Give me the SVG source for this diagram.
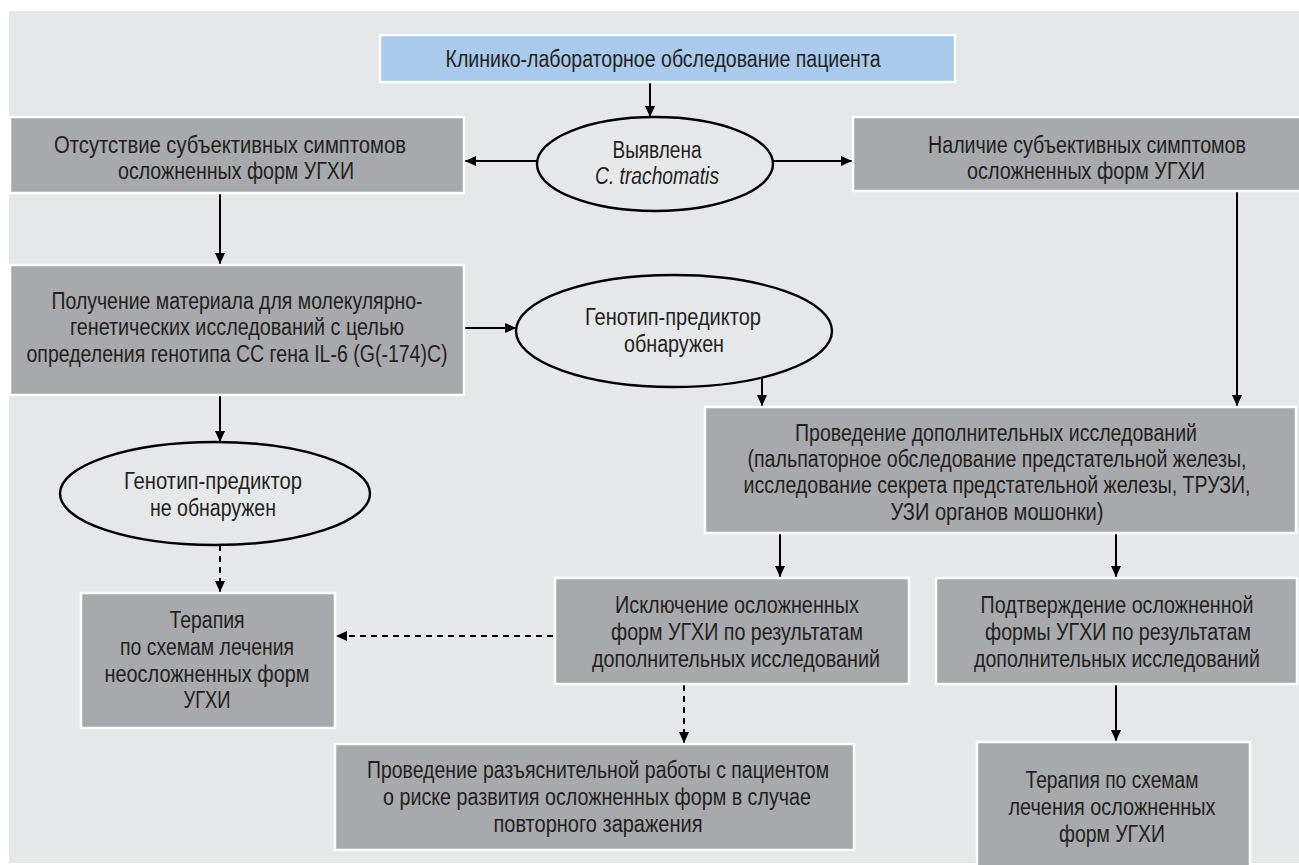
<svg xmlns="http://www.w3.org/2000/svg" width="1299" height="865" viewBox="0 0 1299 865">
<style>
.box{fill:#a7a9ac;stroke:#ffffff;stroke-width:2.5}
.blue{fill:#a9caec;stroke:#ffffff;stroke-width:2.5}
.ell{fill:#e6e7e8;stroke:#000000;stroke-width:2.4}
.t{font-family:"Liberation Sans",Arial,sans-serif;font-size:23px;fill:#231f20}
.i{font-style:italic}
.c{fill:none;stroke:#000000;stroke-width:2}
.d{stroke-dasharray:6 5}
</style>
<defs>
<marker id="ah" markerUnits="userSpaceOnUse" markerWidth="11" markerHeight="10" refX="11" refY="5" orient="auto">
<path d="M0,0 L11,5 L0,10 z" fill="#000000"/>
</marker>
</defs>
<rect x="0" y="0" width="1299" height="865" fill="#ffffff"/>
<rect x="9" y="11" width="1290" height="852" fill="#e6e7e8"/>

<g id="connectors">
<line class="c" x1="650" y1="82" x2="650" y2="117" marker-end="url(#ah)"/>
<line class="c" x1="537" y1="161" x2="465" y2="161" marker-end="url(#ah)"/>
<line class="c" x1="773" y1="161" x2="852" y2="161" marker-end="url(#ah)"/>
<line class="c" x1="220" y1="193" x2="220" y2="264" marker-end="url(#ah)"/>
<line class="c" x1="465" y1="328" x2="516" y2="328" marker-end="url(#ah)"/>
<line class="c" x1="220" y1="395" x2="220" y2="442" marker-end="url(#ah)"/>
<line class="c" x1="762" y1="378" x2="762" y2="406" marker-end="url(#ah)"/>
<line class="c" x1="1237" y1="191" x2="1237" y2="406" marker-end="url(#ah)"/>
<line class="c d" x1="220" y1="545" x2="220" y2="592" marker-end="url(#ah)"/>
<line class="c" x1="780" y1="533" x2="780" y2="577" marker-end="url(#ah)"/>
<line class="c" x1="1116" y1="533" x2="1116" y2="577" marker-end="url(#ah)"/>
<line class="c d" x1="553" y1="636" x2="336" y2="636" marker-end="url(#ah)"/>
<line class="c d" x1="684" y1="685" x2="684" y2="743" marker-end="url(#ah)"/>
<line class="c" x1="1116" y1="685" x2="1116" y2="741" marker-end="url(#ah)"/>
</g>

<g id="n-start">
<rect class="blue" x="380" y="35" width="575" height="47"/>
<text class="t" x="663" y="67" text-anchor="middle" textLength="435" lengthAdjust="spacingAndGlyphs">Клинико-лабораторное обследование пациента</text>
</g>

<g id="n-detected">
<ellipse class="ell" cx="655" cy="164" rx="118" ry="47"/>
<text class="t" x="657" y="158" text-anchor="middle" textLength="89" lengthAdjust="spacingAndGlyphs">Выявлена</text>
<text class="t i" x="657" y="184" text-anchor="middle" textLength="124" lengthAdjust="spacingAndGlyphs">C. trachomatis</text>
</g>

<g id="n-nosymptoms">
<rect class="box" x="10" y="117" width="454" height="76"/>
<text class="t" x="230" y="153" text-anchor="middle" textLength="352" lengthAdjust="spacingAndGlyphs">Отсутствие субъективных симптомов</text>
<text class="t" x="236" y="179" text-anchor="middle" textLength="236" lengthAdjust="spacingAndGlyphs">осложненных форм УГХИ</text>
</g>

<g id="n-symptoms">
<rect class="box" x="853" y="117" width="470" height="74"/>
<text class="t" x="1087" y="153" text-anchor="middle" textLength="318" lengthAdjust="spacingAndGlyphs">Наличие субъективных симптомов</text>
<text class="t" x="1086" y="179" text-anchor="middle" textLength="238" lengthAdjust="spacingAndGlyphs">осложненных форм УГХИ</text>
</g>

<g id="n-material">
<rect class="box" x="10" y="265" width="454" height="130"/>
<text class="t" x="237" y="309" text-anchor="middle" textLength="371" lengthAdjust="spacingAndGlyphs">Получение материала для молекулярно-</text>
<text class="t" x="237" y="335" text-anchor="middle" textLength="334" lengthAdjust="spacingAndGlyphs">генетических исследований с целью</text>
<text class="t" x="237" y="362" text-anchor="middle" textLength="421" lengthAdjust="spacingAndGlyphs">определения генотипа CC гена IL-6 (G(-174)C)</text>
</g>

<g id="n-found">
<ellipse class="ell" cx="674" cy="331" rx="158" ry="56"/>
<text class="t" x="673" y="325" text-anchor="middle" textLength="176" lengthAdjust="spacingAndGlyphs">Генотип-предиктор</text>
<text class="t" x="674" y="352" text-anchor="middle" textLength="100" lengthAdjust="spacingAndGlyphs">обнаружен</text>
</g>

<g id="n-notfound">
<ellipse class="ell" cx="215" cy="493.5" rx="155" ry="51.5"/>
<text class="t" x="213" y="489" text-anchor="middle" textLength="178" lengthAdjust="spacingAndGlyphs">Генотип-предиктор</text>
<text class="t" x="213" y="516" text-anchor="middle" textLength="126" lengthAdjust="spacingAndGlyphs">не обнаружен</text>
</g>

<g id="n-additional">
<rect class="box" x="705" y="407" width="591" height="126"/>
<text class="t" x="996" y="441" text-anchor="middle" textLength="402" lengthAdjust="spacingAndGlyphs">Проведение дополнительных исследований</text>
<text class="t" x="997" y="467" text-anchor="middle" textLength="499" lengthAdjust="spacingAndGlyphs">(пальпаторное обследование предстательной железы,</text>
<text class="t" x="997" y="493" text-anchor="middle" textLength="507" lengthAdjust="spacingAndGlyphs">исследование секрета предстательной железы, ТРУЗИ,</text>
<text class="t" x="997" y="520" text-anchor="middle" textLength="213" lengthAdjust="spacingAndGlyphs">УЗИ органов мошонки)</text>
</g>

<g id="n-excluded">
<rect class="box" x="555" y="578" width="354" height="106"/>
<text class="t" x="737" y="613" text-anchor="middle" textLength="244" lengthAdjust="spacingAndGlyphs">Исключение осложненных</text>
<text class="t" x="737" y="640" text-anchor="middle" textLength="252" lengthAdjust="spacingAndGlyphs">форм УГХИ по результатам</text>
<text class="t" x="736" y="667" text-anchor="middle" textLength="288" lengthAdjust="spacingAndGlyphs">дополнительных исследований</text>
</g>

<g id="n-confirmed">
<rect class="box" x="936" y="578" width="361" height="106"/>
<text class="t" x="1117" y="613" text-anchor="middle" textLength="273" lengthAdjust="spacingAndGlyphs">Подтверждение осложненной</text>
<text class="t" x="1118" y="640" text-anchor="middle" textLength="266" lengthAdjust="spacingAndGlyphs">формы УГХИ по результатам</text>
<text class="t" x="1117" y="667" text-anchor="middle" textLength="286" lengthAdjust="spacingAndGlyphs">дополнительных исследований</text>
</g>

<g id="n-therapy-uncomplicated">
<rect class="box" x="81" y="593" width="254" height="135"/>
<text class="t" x="207" y="628" text-anchor="middle" textLength="75" lengthAdjust="spacingAndGlyphs">Терапия</text>
<text class="t" x="207" y="655" text-anchor="middle" textLength="174" lengthAdjust="spacingAndGlyphs">по схемам лечения</text>
<text class="t" x="207" y="682" text-anchor="middle" textLength="205" lengthAdjust="spacingAndGlyphs">неосложненных форм</text>
<text class="t" x="207" y="708" text-anchor="middle" textLength="47" lengthAdjust="spacingAndGlyphs">УГХИ</text>
</g>

<g id="n-explain">
<rect class="box" x="335" y="744" width="519" height="106"/>
<text class="t" x="598" y="778" text-anchor="middle" textLength="462" lengthAdjust="spacingAndGlyphs">Проведение разъяснительной работы с пациентом</text>
<text class="t" x="597" y="805" text-anchor="middle" textLength="428" lengthAdjust="spacingAndGlyphs">о риске развития осложненных форм в случае</text>
<text class="t" x="598" y="832" text-anchor="middle" textLength="209" lengthAdjust="spacingAndGlyphs">повторного заражения</text>
</g>

<g id="n-therapy-complicated">
<rect class="box" x="977" y="742" width="273" height="140"/>
<text class="t" x="1112" y="788" text-anchor="middle" textLength="173" lengthAdjust="spacingAndGlyphs">Терапия по схемам</text>
<text class="t" x="1112" y="815" text-anchor="middle" textLength="207" lengthAdjust="spacingAndGlyphs">лечения осложненных</text>
<text class="t" x="1112" y="842" text-anchor="middle" textLength="106" lengthAdjust="spacingAndGlyphs">форм УГХИ</text>
</g>
</svg>
